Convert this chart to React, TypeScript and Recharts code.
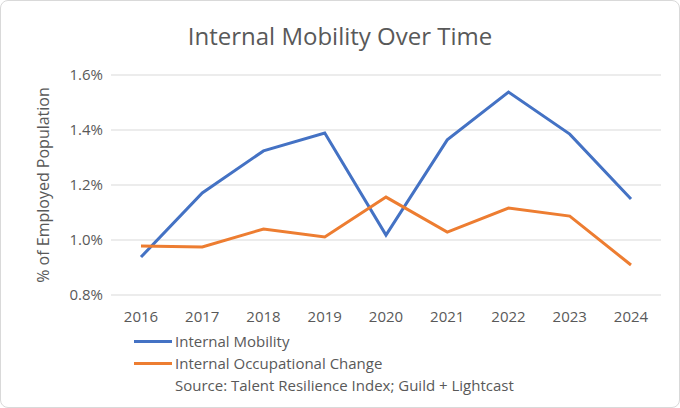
import { LineChart, Line, XAxis, YAxis, CartesianGrid } from "recharts";

const years = ["2016", "2017", "2018", "2019", "2020", "2021", "2022", "2023", "2024"];
const internalMobility = [0.938, 1.171, 1.324, 1.389, 1.018, 1.364, 1.538, 1.385, 1.149];
const occupationalChange = [0.978, 0.975, 1.04, 1.011, 1.156, 1.029, 1.116, 1.087, 0.909];
const yTicks = [0.8, 1.0, 1.2, 1.4, 1.6];

const BLUE = "#4472C4";
const ORANGE = "#ED7D31";
const TEXT = "#595959";
const FONT = "'Open Sans', 'Noto Sans', sans-serif";

const data = years.map((year, i) => ({
  year,
  mobility: internalMobility[i],
  occupational: occupationalChange[i],
}));

function LegendRow({ color, label }: { color?: string; label: string }) {
  return (
    <div style={{ display: "flex", alignItems: "center", height: 22 }}>
      <div style={{ width: 38, height: 3, background: color ?? "transparent", marginRight: 3 }} />
      <span>{label}</span>
    </div>
  );
}

export default function App() {
  return (
    <div
      style={{
        position: "absolute",
        left: 0,
        top: 0,
        width: 678,
        height: 406,
        border: "1px solid #d9d9d9",
        borderRadius: 8,
        background: "#fff",
        fontFamily: FONT,
        color: TEXT,
        overflow: "hidden",
      }}
    >
      <div style={{ position: "absolute", top: 18, width: "100%", textAlign: "center", fontSize: 24 }}>
        Internal Mobility Over Time
      </div>
      <div
        style={{
          position: "absolute",
          left: 42,
          top: 184,
          transform: "translate(-50%, -50%) rotate(-90deg)",
          whiteSpace: "nowrap",
          fontSize: 16,
        }}
      >
        % of Employed Population
      </div>
      <div style={{ position: "absolute", left: 0, top: 0 }}>
        <LineChart width={680} height={330} data={data} margin={{ top: 74, right: 20, bottom: 0, left: 0 }}>
          <CartesianGrid vertical={false} stroke="#d9d9d9" />
          <XAxis
            dataKey="year"
            padding={{ left: 30, right: 30 }}
            axisLine={false}
            tickLine={false}
            tick={{ fill: TEXT, fontSize: 15 }}
            height={36}
            tickMargin={10}
          />
          <YAxis
            width={110}
            domain={[0.8, 1.6]}
            ticks={yTicks}
            axisLine={false}
            tickLine={false}
            tick={{ fill: TEXT, fontSize: 15 }}
            tickFormatter={(v: number) => `${v.toFixed(1)}%`}
          />
          <Line dataKey="mobility" stroke={BLUE} strokeWidth={3} dot={false} isAnimationActive={false} />
          <Line dataKey="occupational" stroke={ORANGE} strokeWidth={3} dot={false} isAnimationActive={false} />
        </LineChart>
      </div>
      <div style={{ position: "absolute", left: 133, top: 329, fontSize: 15 }}>
        <LegendRow color={BLUE} label="Internal Mobility" />
        <LegendRow color={ORANGE} label="Internal Occupational Change" />
        <LegendRow label="Source: Talent Resilience Index; Guild + Lightcast" />
      </div>
    </div>
  );
}
